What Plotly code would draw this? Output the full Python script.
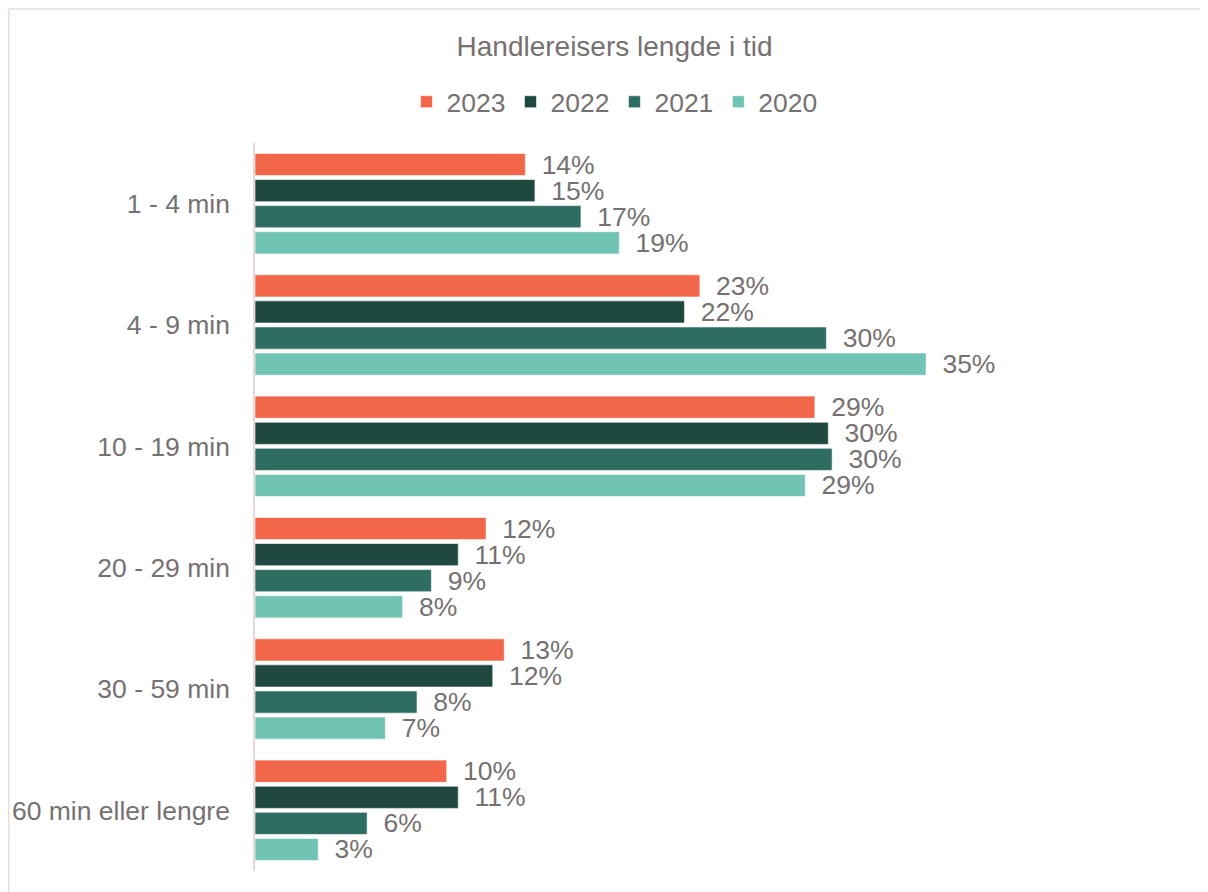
import plotly.graph_objects as go

categories = ["1 - 4 min", "4 - 9 min", "10 - 19 min", "20 - 29 min", "30 - 59 min", "60 min eller lengre"]
series_names = ["2023", "2022", "2021", "2020"]
v2023 = [14.1, 23.2, 29.2, 12.05, 13.0, 10.0]
v2022 = [14.6, 22.4, 29.9, 10.6, 12.4, 10.6]
v2021 = [17.0, 29.8, 30.1, 9.2, 8.45, 5.85]
v2020 = [19.0, 35.0, 28.7, 7.7, 6.8, 3.3]
colors = ["#F26649", "#1F4840", "#2E6D62", "#71C4B3"]

TXT = "#767171"
FONT = "Liberation Sans, Arial, sans-serif"
FS = 26.5

FIG_W, FIG_H = 1200, 884
fig = go.Figure()
for name, vals, col in zip(series_names, [v2023, v2022, v2021, v2020], colors):
    fig.add_trace(go.Bar(
        name=name, y=categories, x=vals, orientation="h",
        marker=dict(color=col, line=dict(color="rgba(255,255,255,0.6)", width=1)),
        text=["\u2002%d%%" % round(v) for v in vals],
        textposition="outside", constraintext="none", cliponaxis=False,
        textfont=dict(family=FONT, size=FS, color=TXT),
        hoverinfo="skip",
    ))

# plot area geometry (figure px)
L, R, T, B = 247, 1014, 135, 863
W, H = R - L, B - T

def px_x(p):
    return (p - L) / W

def px_y(p):
    return (B - p) / H

frame = dict(color="#E8DCDF", width=1.5)
fig.update_layout(
    width=FIG_W, height=FIG_H,
    paper_bgcolor="white", plot_bgcolor="white",
    margin=dict(l=L, r=FIG_W - R, t=T, b=FIG_H - B, autoexpand=False),
    barmode="group", bargap=0.14, bargroupgap=0.15,
    font=dict(family=FONT, size=FS, color=TXT),
    title=dict(text="Handlereisers lengde i tid", xref="container", yref="container",
               x=606.5 / FIG_W, y=1 - 38 / FIG_H, xanchor="center", yanchor="middle",
               font=dict(family=FONT, size=28, color=TXT)),
    legend=dict(orientation="h", xref="paper", yref="paper", x=px_x(606.5), y=px_y(94),
                xanchor="center", yanchor="middle", font=dict(family=FONT, size=FS, color=TXT),
                itemclick=False, traceorder="normal"),
    xaxis=dict(range=[0, 40], visible=False, showgrid=False, zeroline=False, fixedrange=True),
    yaxis=dict(autorange="reversed", showline=True, linecolor="#E6D8DB", linewidth=1.5,
               ticks="", showgrid=False, ticklabelstandoff=18,
               tickfont=dict(family=FONT, size=FS, color=TXT)),
    shapes=[
        dict(type="line", xref="paper", yref="paper",
             x0=px_x(0.75), x1=px_x(1260), y0=px_y(1), y1=px_y(1), line=frame, layer="below"),
        dict(type="line", xref="paper", yref="paper",
             x0=px_x(0.75), x1=px_x(0.75), y0=px_y(1), y1=px_y(920), line=frame, layer="below"),
    ],
)

fig.write_html("out.html")
